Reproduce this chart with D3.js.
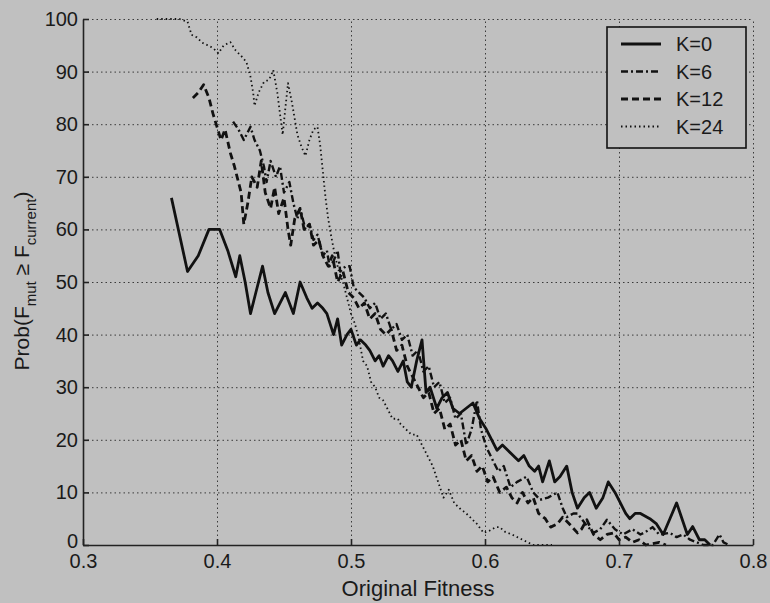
<!DOCTYPE html>
<html>
<head>
<meta charset="utf-8" />
<title>Prob(Fmut >= Fcurrent) vs Original Fitness</title>
<script src="https://cdn.jsdelivr.net/npm/d3@7"></script>
<style>
	body { margin: 0; background: #c0c0c0; }
	svg { display: block; font-family: "Liberation Sans", Arial, Helvetica, sans-serif; }
	.grid line { stroke: #3a3a3a; stroke-width: 1; stroke-dasharray: 1.5, 3; }
	.grid path { display: none; }
	.axis path, .axis line { stroke: #222; stroke-width: 1.6; }
	.axis text { fill: #1a1a1a; font-size: 20px; }
	.series { fill: none; stroke: #111; stroke-linejoin: round; }
</style>
</head>
<body>
<script>
	// ticks
	var xTicks = [0.3, 0.4, 0.5, 0.6, 0.7, 0.8];
	var yTicks = [0, 10, 20, 30, 40, 50, 60, 70, 80, 90, 100];
	var seriesNames = ["K=0", "K=6", "K=12", "K=24"];

	// values: [original fitness, prob %]
	var k0 = [[0.366,66],[0.378,52],[0.386,55],[0.394,60],[0.402,60],[0.408,56],[0.414,51],[0.417,55],[0.421,50],[0.425,44],
		[0.429,48],[0.434,53],[0.438,48],[0.443,44],[0.447,46],[0.451,48],[0.454,46],[0.457,44],[0.462,50],[0.467,47],
		[0.471,45],[0.475,46],[0.479,45],[0.482,44],[0.487,40],[0.49,43],[0.493,38],[0.497,40],[0.5,41],[0.504,38],
		[0.507,39],[0.511,38],[0.514,37],[0.518,35],[0.521,36],[0.524,34],[0.528,36],[0.531,35],[0.535,33],[0.539,35],
		[0.542,31],[0.545,30],[0.549,35],[0.553,39],[0.556,29],[0.559,30],[0.564,26],[0.568,28],[0.572,29],[0.576,26],
		[0.581,25],[0.586,26],[0.591,27],[0.596,24],[0.601,22],[0.605,20],[0.609,18],[0.613,19],[0.617,18],[0.621,17],
		[0.625,16],[0.629,17],[0.633,15],[0.637,14],[0.64,15],[0.643,12],[0.648,16],[0.652,12],[0.656,13],[0.661,15],
		[0.665,10],[0.669,7],[0.674,9],[0.678,10],[0.683,7],[0.688,9],[0.692,12],[0.697,10],[0.701,8],[0.705,6],
		[0.708,5],[0.712,6],[0.716,6],[0.723,5],[0.728,4],[0.733,2],[0.738,5],[0.743,8],[0.747,5],[0.751,2],
		[0.755,3.5],[0.76,1],[0.764,1],[0.768,0]];

	var k6 = [[0.412,80.5],[0.416,79],[0.42,77],[0.425,79.5],[0.428,77],[0.432,75],[0.435,72],[0.437,69],[0.44,73],[0.444,70],
		[0.447,72],[0.45,67],[0.454,69],[0.457,65],[0.46,62],[0.462,64],[0.466,60],[0.469,61],[0.472,58],[0.475,59],
		[0.479,55],[0.482,56],[0.484,53],[0.487,54],[0.49,56],[0.492,52],[0.496,53],[0.499,53],[0.502,49],[0.506,48],
		[0.51,47],[0.514,45],[0.518,46],[0.522,43],[0.526,44],[0.53,41],[0.534,42],[0.538,39],[0.542,40],[0.546,36],
		[0.55,37],[0.554,33],[0.558,34],[0.562,30],[0.566,31],[0.57,27],[0.574,28],[0.578,24],[0.582,25],[0.586,19],
		[0.59,22],[0.594,27.5],[0.597,22],[0.601,18.6],[0.606,16],[0.61,14],[0.614,15],[0.619,11],[0.624,12],[0.631,13],
		[0.636,10],[0.641,8.6],[0.647,9],[0.654,10],[0.658,7],[0.661,5.3],[0.666,6],[0.669,6],[0.675,4],[0.681,2.3],
		[0.686,3],[0.691,4.8],[0.697,3],[0.703,2],[0.71,3],[0.716,2],[0.72,2.5],[0.725,3.4],[0.73,2],[0.738,2.3],
		[0.743,1.5],[0.748,2],[0.753,1],[0.758,0.5],[0.763,0],[0.77,0],[0.775,2],[0.778,0.5],[0.782,0]];

	var k12 = [[0.382,85],[0.386,86],[0.39,87.5],[0.394,85],[0.397,82],[0.4,79.5],[0.403,77],[0.406,79],[0.41,74.5],[0.413,72],
		[0.415,70],[0.418,67],[0.42,61],[0.423,65],[0.426,70],[0.43,68],[0.433,73],[0.436,67],[0.44,64],[0.443,68],
		[0.446,63],[0.45,66],[0.453,60],[0.455,57],[0.458,62],[0.462,64],[0.465,60],[0.469,61],[0.472,57],[0.476,58],
		[0.479,55],[0.483,53],[0.486,55],[0.49,50],[0.494,52],[0.498,48],[0.502,47],[0.506,45],[0.51,46],[0.514,43],
		[0.518,44],[0.522,41],[0.526,40],[0.53,41],[0.534,37],[0.538,38],[0.542,34],[0.546,32],[0.55,30],[0.554,28],
		[0.558,29],[0.562,25],[0.566,26],[0.57,22],[0.574,23],[0.578,19],[0.582,20],[0.586,16],[0.59,17],[0.594,14],
		[0.598,15],[0.602,12],[0.606,13],[0.611,10],[0.616,11],[0.62,9],[0.624,8],[0.628,10],[0.632,8],[0.636,9],
		[0.64,6],[0.645,5],[0.649,3.4],[0.654,4],[0.658,5.3],[0.663,4],[0.669,2.3],[0.672,3],[0.676,4.8],[0.681,2],
		[0.686,1],[0.691,2],[0.696,2.3],[0.7,1],[0.705,1.5],[0.71,0.5],[0.715,1],[0.72,0],[0.73,0.5],[0.735,0]];

	var k24 = [[0.355,100],[0.365,100],[0.372,100],[0.378,99.5],[0.381,97],[0.385,96.5],[0.389,95.5],[0.393,95],[0.397,94.5],[0.401,93.5],
		[0.405,95],[0.41,95.6],[0.414,94],[0.418,93],[0.422,91.8],[0.425,89],[0.427,86],[0.428,83.5],[0.431,86],[0.435,88],
		[0.439,88.5],[0.442,90.3],[0.445,86],[0.447,82],[0.449,78],[0.451,83],[0.453,87.8],[0.456,84],[0.458,81],[0.46,78],
		[0.463,75.7],[0.466,74],[0.469,77],[0.472,79],[0.475,79.5],[0.477,76],[0.479,71],[0.481,66],[0.483,62],[0.485,59],
		[0.488,55],[0.491,52],[0.494,50],[0.497,47],[0.5,44],[0.503,42],[0.506,39],[0.509,35],[0.512,34],[0.515,31],
		[0.518,30],[0.521,28],[0.524,27.5],[0.527,26],[0.531,24],[0.535,24],[0.537,23],[0.541,22],[0.545,21],[0.549,21],
		[0.553,19],[0.557,17],[0.561,15],[0.565,12],[0.569,9],[0.573,10.5],[0.577,8],[0.581,7],[0.586,6],[0.59,5],
		[0.594,4],[0.599,2.3],[0.604,2.8],[0.608,3.4],[0.611,3.4],[0.615,2.5],[0.62,2],[0.624,1.5],[0.628,1],[0.632,0.5],
		[0.636,0],[0.65,0]];

	var seriesData = [k0, k6, k12, k24];
	// matlab line styles: solid, dash-dot, dashed, dotted
	var dashes = [null, "7,3,2,3", "7,4", "1.5,3"];
	var widths = [2.8, 2.4, 2.8, 1.8];

	var width = 770, height = 603;
	var x = d3.scaleLinear().domain([0.3, 0.8]).range([83, 753]);
	var y = d3.scaleLinear().domain([0, 100]).range([545, 19]);

	var svg = d3.select("body").append("svg")
		.attr("width", width)
		.attr("height", height);

	svg.append("rect").attr("width", width).attr("height", height).attr("fill", "#c0c0c0");

	// dotted grid
	svg.append("g").attr("class", "grid")
		.attr("transform", "translate(0," + y(0) + ")")
		.call(d3.axisBottom(x).tickValues(xTicks.slice(1)).tickSize(-(y(0) - y(100))).tickFormat(""));
	svg.append("g").attr("class", "grid")
		.attr("transform", "translate(" + x(0.3) + ",0)")
		.call(d3.axisLeft(y).tickValues(yTicks.slice(1)).tickSize(-(x(0.8) - x(0.3))).tickFormat(""));

	// the curves
	var line = d3.line().x(d => x(d[0])).y(d => y(d[1]));
	seriesData.forEach(function (s, i) {
		svg.append("path")
			.datum(s)
			.attr("class", "series")
			.attr("d", line)
			.attr("stroke-width", widths[i])
			.attr("stroke-dasharray", dashes[i]);
	});

	// axes, ticks point inward
	var yAxis = svg.append("g").attr("class", "axis")
		.attr("transform", "translate(" + x(0.3) + ",0)")
		.call(d3.axisLeft(y).tickValues(yTicks).tickSize(-6).tickPadding(5).tickSizeOuter(0).tickFormat(d3.format("d")));
	// the "0" sits a bit high so it clears the 0.3 below it
	yAxis.selectAll(".tick text").filter(d => d === 0).attr("dy", "0.1em");
	svg.append("g").attr("class", "axis")
		.attr("transform", "translate(0," + y(0) + ")")
		.call(d3.axisBottom(x).tickValues(xTicks).tickSize(-6).tickPadding(9).tickSizeOuter(0).tickFormat(d3.format(".1f")));

	// axis labels
	svg.append("text")
		.attr("x", 418).attr("y", 596)
		.attr("text-anchor", "middle")
		.attr("font-size", 22)
		.attr("fill", "#1a1a1a")
		.text("Original Fitness");

	var ylab = svg.append("text")
		.attr("transform", "translate(29,281) rotate(-90)")
		.attr("text-anchor", "middle")
		.attr("font-size", 21)
		.attr("fill", "#1a1a1a");
	ylab.append("tspan").text("Prob(F");
	ylab.append("tspan").attr("font-size", 15).attr("dy", 7).text("mut");
	ylab.append("tspan").attr("dy", -7).text(" \u2265 F");
	ylab.append("tspan").attr("font-size", 15).attr("dy", 7).text("current");
	ylab.append("tspan").attr("dy", -7).text(")");

	// legend
	var legend = svg.append("g").attr("transform", "translate(607,27)");
	legend.append("rect")
		.attr("width", 139).attr("height", 121)
		.attr("fill", "#c0c0c0")
		.attr("stroke", "#111")
		.attr("stroke-width", 1.6);
	seriesNames.forEach(function (name, i) {
		var ly = 17 + i * 27.5;
		legend.append("line")
			.attr("x1", 14).attr("x2", 54)
			.attr("y1", ly).attr("y2", ly)
			.attr("stroke", "#111")
			.attr("stroke-width", widths[i])
			.attr("stroke-dasharray", dashes[i]);
		legend.append("text")
			.attr("x", 69).attr("y", ly + 7)
			.attr("font-size", 20)
			.attr("fill", "#1a1a1a")
			.text(name);
	});
</script>
</body>
</html>
